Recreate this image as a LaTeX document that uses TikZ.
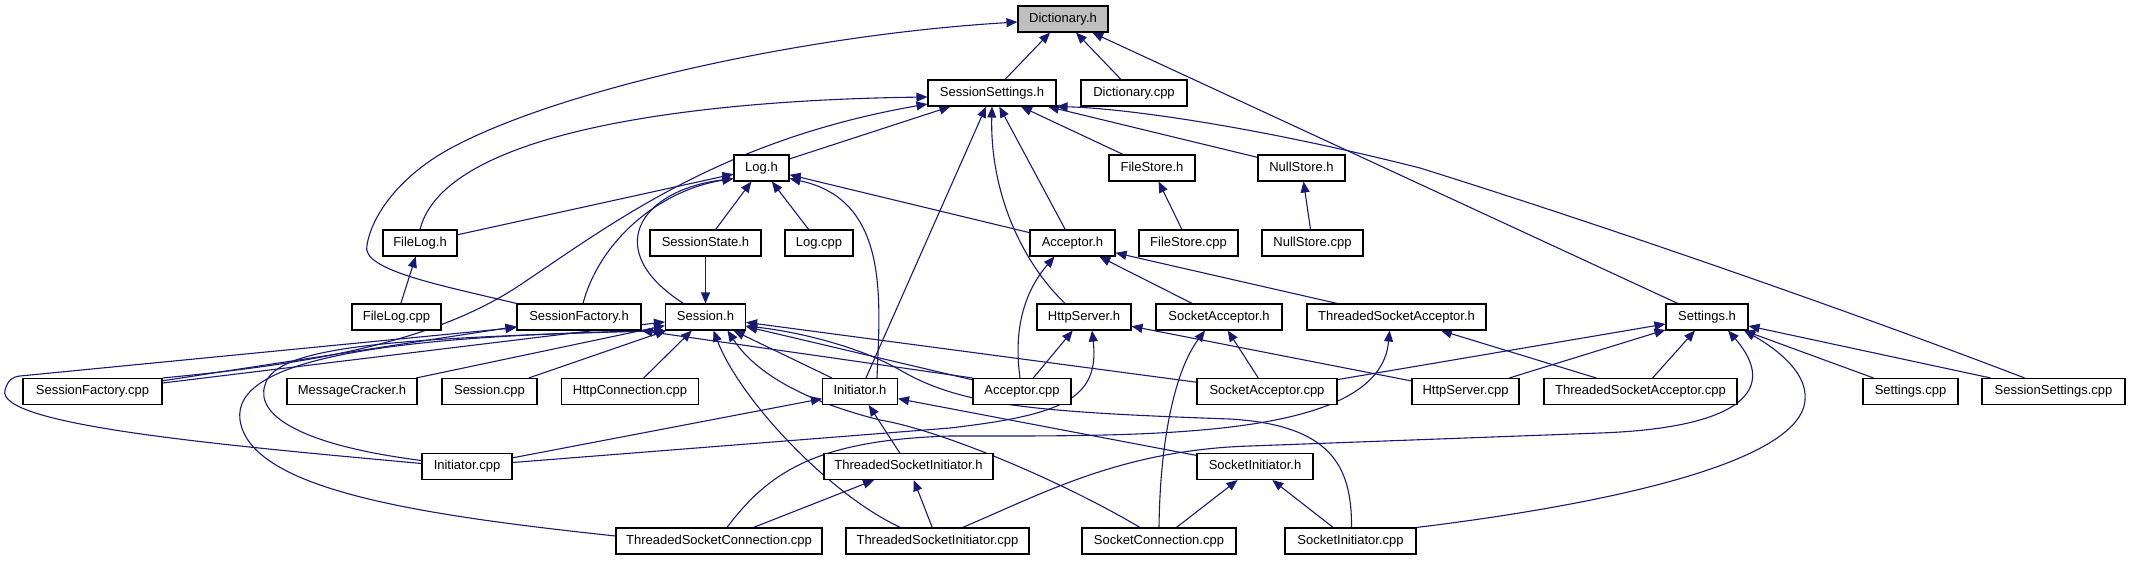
\documentclass[tikz,border=0pt]{standalone}
\usepackage{fontspec}
\setmainfont{Liberation Sans}
\usetikzlibrary{arrows.meta}
\definecolor{edgecol}{RGB}{25,25,112}
\definecolor{rootfill}{RGB}{191,191,191}
\pgfdeclarelayer{bg}
\pgfsetlayers{bg,main}
\begin{document}
\begin{tikzpicture}[x=1pt,y=-1pt,
  dbox/.style={draw=black, line width=1.1pt, fill=white, minimum height=26pt,
    inner xsep=0pt, inner ysep=0pt, text height=9.5pt, text depth=2.8pt,
    font=\fontsize{13pt}{15pt}\selectfont},
  dep/.style={draw=edgecol, line width=1.1pt, -{Triangle[length=11pt,width=9pt]}}]
\useasboundingbox (0,0) rectangle (2130,560);
% row 1
\node[dbox, fill=rootfill, minimum width=90pt] (dict) at (1063,19) {Dictionary.h};
% row 2
\node[dbox, minimum width=128pt] (ss) at (992,93) {SessionSettings.h};
\node[dbox, minimum width=106pt] (dcpp) at (1134,93) {Dictionary.cpp};
% row 3
\node[dbox, minimum width=55pt] (logh) at (761.5,168) {Log.h};
\node[dbox, minimum width=86pt] (fsh) at (1152,168) {FileStore.h};
\node[dbox, minimum width=87pt] (nsh) at (1301.5,168) {NullStore.h};
% row 4
\node[dbox, minimum width=74pt] (fileh) at (420,243) {FileLog.h};
\node[dbox, minimum width=111pt] (sstate) at (705.5,243) {SessionState.h};
\node[dbox, minimum width=68pt] (logcpp) at (819,243) {Log.cpp};
\node[dbox, minimum width=85pt] (acch) at (1072.5,243) {Acceptor.h};
\node[dbox, minimum width=99pt] (fscpp) at (1188.5,243) {FileStore.cpp};
\node[dbox, minimum width=101pt] (nscpp) at (1312.5,243) {NullStore.cpp};
% row 5
\node[dbox, minimum width=89pt] (filecpp) at (396.5,317) {FileLog.cpp};
\node[dbox, minimum width=124pt] (sfh) at (579,317) {SessionFactory.h};
\node[dbox, minimum width=80pt] (sessh) at (705.5,317) {Session.h};
\node[dbox, minimum width=94pt] (hsh) at (1084,317) {HttpServer.h};
\node[dbox, minimum width=126pt] (sah) at (1219,317) {SocketAcceptor.h};
\node[dbox, minimum width=179pt] (tsah) at (1396.5,317) {ThreadedSocketAcceptor.h};
\node[dbox, minimum width=82pt] (settings) at (1707,317) {Settings.h};
% row 6
\node[dbox, minimum width=139pt] (sfcpp) at (92.5,391.5) {SessionFactory.cpp};
\node[dbox, minimum width=130pt] (mc) at (352,391.5) {MessageCracker.h};
\node[dbox, minimum width=95pt] (sesscpp) at (489.5,391.5) {Session.cpp};
\node[dbox, minimum width=137pt] (httpconn) at (630,391.5) {HttpConnection.cpp};
\node[dbox, minimum width=75pt] (inith) at (860,391.5) {Initiator.h};
\node[dbox, minimum width=98pt] (acccpp) at (1022,391.5) {Acceptor.cpp};
\node[dbox, minimum width=140pt] (sacpp) at (1267,391.5) {SocketAcceptor.cpp};
\node[dbox, minimum width=107pt] (hscpp) at (1465.5,391.5) {HttpServer.cpp};
\node[dbox, minimum width=193pt] (tsacpp) at (1640.5,391.5) {ThreadedSocketAcceptor.cpp};
\node[dbox, minimum width=95pt] (setcpp) at (1910.5,391.5) {Settings.cpp};
\node[dbox, minimum width=143pt] (sscpp) at (2053.5,391.5) {SessionSettings.cpp};
% row 7
\node[dbox, minimum width=90pt] (initcpp) at (467,466.5) {Initiator.cpp};
\node[dbox, minimum width=169pt] (tsih) at (908.5,466.5) {ThreadedSocketInitiator.h};
\node[dbox, minimum width=116pt] (sih) at (1255,466.5) {SocketInitiator.h};
% row 8
\node[dbox, minimum width=206pt] (tsc) at (719,541) {ThreadedSocketConnection.cpp};
\node[dbox, minimum width=183pt] (tsicpp) at (937.5,541) {ThreadedSocketInitiator.cpp};
\node[dbox, minimum width=154pt] (sccpp) at (1159,541) {SocketConnection.cpp};
\node[dbox, minimum width=131pt] (sicpp) at (1350.5,541) {SocketInitiator.cpp};

\begin{pgfonlayer}{bg}
% Dictionary.h
\draw[dep] (ss) -- (dict);
\draw[dep] (dcpp) -- (dict);
\draw[dep] (settings) -- (dict);
\draw[dep] (sfh.north west) .. controls (440,285) and (360,270) .. (367,245)
  .. controls (372,215) and (400,175) .. (453,147)
  .. controls (560,90) and (800,35) .. ([yshift=-3pt]dict.west);
% SessionSettings.h
\draw[dep] (logh) -- (ss);
\draw[dep] (fileh.north) .. controls (445,130) and (700,100) .. ([yshift=-4pt]ss.west);
\draw[dep] (sfcpp.north east) .. controls (300,365) and (430,345) .. (520,285)
  .. controls (610,225) and (720,140) .. ([yshift=-11pt]ss.west);
\draw[dep] (inith) -- (ss);
\draw[dep] ([xshift=-19pt]hsh.north) .. controls (1020,260) and (990,190) .. (ss.south);
\draw[dep] (acch) -- (ss);
\draw[dep] (fsh) -- (ss);
\draw[dep] (nsh) -- (ss);
\draw[dep] ([xshift=-29pt]sscpp.north) .. controls (1900,330) and (1650,240) .. (1420,168)
  .. controls (1250,125) and (1120,108) .. (ss.south east);
% Log.h
\draw[dep] (fileh) -- (logh);
\draw[dep] ([xshift=4pt]sfh.north) .. controls (600,240) and (660,190) .. ([yshift=3pt]logh.south west);
\draw[dep] ([xshift=-22pt]sessh.north) .. controls (600,250) and (640,190) .. ([yshift=3pt]logh.south west);
\draw[dep] (sstate) -- (logh);
\draw[dep] (logcpp) -- (logh);
\draw[dep] ([xshift=17pt]inith.north) .. controls (880,300) and (890,200) .. ([yshift=3pt]logh.south east);
\draw[dep] (acch) -- (logh);
% Acceptor.h
\draw[dep] ([xshift=-2pt]acccpp.north) .. controls (1012,320) and (1030,285) .. ([xshift=-18pt]acch.south);
\draw[dep] (sah) -- (acch);
\draw[dep] (tsah) -- (acch);
% stores, FileLog, SessionState
\draw[dep] (fscpp) -- (fsh);
\draw[dep] (nscpp) -- (nsh);
\draw[dep] (filecpp) -- (fileh);
\draw[dep] (sstate) -- (sessh);
% SessionFactory.h
\draw[dep] (sfcpp) -- (sfh);
\draw[dep] ([yshift=3pt]initcpp.west) .. controls (220,445) and (-5,425) .. (5,390)
  .. controls (8,380) and (12,377) .. (20,376) -- ([yshift=3pt]sfh.south west);
\draw[dep] (acccpp.north west) -- (sfh.south east);
% Session.h
\draw[dep] (sfcpp) -- (sessh);
\draw[dep] (mc) -- (sessh);
\draw[dep] (sesscpp) -- (sessh);
\draw[dep] (httpconn) -- (sessh);
\draw[dep] (inith) -- (sessh);
\draw[dep] (acccpp) -- (sessh);
\draw[dep] (sacpp) -- (sessh);
\draw[dep] ([yshift=6pt]initcpp.west) .. controls (300,445) and (255,415) .. (265,385)
  .. controls (275,345) and (400,338) .. (sessh.south west);
\draw[dep] ([yshift=5pt]tsc.west) .. controls (420,515) and (250,490) .. (240,420)
  .. controls (232,360) and (380,336) .. (sessh.south west);
\draw[dep] ([xshift=-37pt]tsicpp.north) .. controls (830,495) and (740,400) .. ([xshift=8pt]sessh.south);
\draw[dep] ([xshift=-19pt]sccpp.north) .. controls (1060,480) and (940,430) .. (880,420)
  .. controls (820,405) and (760,380) .. ([xshift=22pt]sessh.south);
\draw[dep] ([xshift=1pt]sicpp.north) .. controls (1352,465) and (1330,425) .. (1230,419)
  .. controls (1030,412) and (960,405) .. (900,370)
  .. controls (860,347) and (800,332) .. ([yshift=-9pt]sessh.east);
% HttpServer.h
\draw[dep] (acccpp) -- (hsh);
\draw[dep] (hscpp) -- (hsh);
\draw[dep] ([yshift=4pt]initcpp.east) -- (950,428) .. controls (1060,415) and (1100,400) .. ([xshift=8pt]hsh.south);
% SocketAcceptor.h
\draw[dep] (sacpp) -- (sah);
\draw[dep] (sccpp.north) .. controls (1160,440) and (1175,370) .. ([xshift=-14pt]sah.south);
% ThreadedSocketAcceptor.h
\draw[dep] (tsacpp) -- (tsah);
\draw[dep] ([xshift=8pt]tsc.north) .. controls (770,470) and (820,440) .. (950,436)
  .. controls (1150,436) and (1380,440) .. ([xshift=-7pt]tsah.south);
% Settings.h
\draw[dep] (sacpp) -- (settings);
\draw[dep] (hscpp) -- (settings);
\draw[dep] (tsacpp) -- (settings);
\draw[dep] (setcpp) -- (settings);
\draw[dep] (sscpp) -- (settings);
\draw[dep] ([xshift=25pt]tsicpp.north) .. controls (1040,495) and (1120,450) .. (1250,446)
  -- (1600,433) .. controls (1740,428) and (1780,390) .. ([xshift=21pt]settings.south);
\draw[dep] (sicpp.north east) .. controls (1560,510) and (1800,470) .. (1805,400)
  .. controls (1808,370) and (1770,345) .. ([xshift=37pt]settings.south);
% Initiator.h
\draw[dep] (initcpp) -- (inith);
\draw[dep] (tsih) -- (inith);
\draw[dep] (sih) -- (inith);
% ThreadedSocketInitiator.h
\draw[dep] (tsc) -- (tsih);
\draw[dep] (tsicpp) -- (tsih);
% SocketInitiator.h
\draw[dep] (sccpp) -- (sih);
\draw[dep] (sicpp) -- (sih);
\end{pgfonlayer}
\end{tikzpicture}
\end{document}
